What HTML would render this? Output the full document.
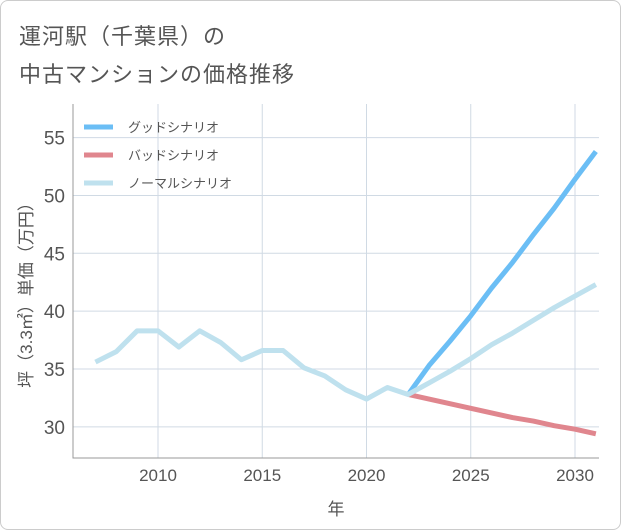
<!DOCTYPE html>
<html><head><meta charset="utf-8"><style>
body{margin:0;background:#fff;font-family:"Liberation Sans","Noto Sans CJK JP",sans-serif;}
#wrap{position:relative;width:619px;height:528px;border:1px solid #ccc;border-radius:8px;overflow:hidden;}
.title{position:absolute;left:18px;font-size:22px;color:#555;letter-spacing:1px;}
</style></head><body>
<div id="wrap">
<div class="title" style="top:18px">運河駅（千葉県）の</div>
<div class="title" style="top:56px">中古マンションの価格推移</div>
<svg id="svg" width="621" height="530" style="position:absolute;left:0;top:0"></svg>
</div>
<script>
const years=[2007,2008,2009,2010,2011,2012,2013,2014,2015,2016,2017,2018,2019,2020,2021,2022];
const hist=[35.6,36.5,38.3,38.3,36.9,38.3,37.3,35.8,36.6,36.6,35.1,34.4,33.2,32.4,33.4,32.8];
const futYears=[2022,2023,2024,2025,2026,2027,2028,2029,2030,2031];
const good=[32.8,35.3,37.4,39.6,42.0,44.2,46.6,48.9,51.4,53.8];
const bad=[32.8,32.4,32.0,31.6,31.2,30.8,30.5,30.1,29.8,29.4];
const normal=[32.8,33.8,34.8,35.9,37.1,38.1,39.2,40.3,41.3,42.3];
const yTicks=[30,35,40,45,50,55];
const xTicks=[2010,2015,2020,2025,2030];
const L=72,R=598,T=103,B=457;
const x=v=>157+(v-2010)*20.85;
const y=v=>368-(v-35)*11.57;
const NS="http://www.w3.org/2000/svg",svg=document.getElementById('svg');
function mk(t,a,p){const e=document.createElementNS(NS,t);for(const k in a)e.setAttribute(k,a[k]);(p||svg).appendChild(e);return e;}
const defs=mk('defs',{});const cp=mk('clipPath',{id:'c'},defs);mk('rect',{x:L,y:T,width:R-L,height:B-T},cp);
for(const t of yTicks){const g=mk('line',{x1:L,x2:R,y1:y(t),y2:y(t),stroke:'#d0dae4','stroke-width':1});

const tx=mk('text',{x:L-8,y:y(t)+7,'text-anchor':'end','font-size':19,fill:'#555'});tx.textContent=t;
}
for(const t of xTicks){const g=mk('line',{x1:x(t),x2:x(t),y1:T,y2:B,stroke:'#d0dae4','stroke-width':1});

const tx=mk('text',{x:x(t),y:B+23,'text-anchor':'middle','font-size':17,fill:'#555'});tx.textContent=t;
}
const ax=mk('path',{d:`M${L} ${T}V${B}H${R}`,fill:'none',stroke:'#999','stroke-width':1});

function line(xs,vs,col,name){const p=mk('polyline',{points:xs.map((v,i)=>x(v)+','+y(vs[i])).join(' '),fill:'none',stroke:col,'stroke-width':5,'stroke-linejoin':'round','clip-path':'url(#c)'});
}
line(futYears,bad,'#e0868e','bad-scenario-line');
line(futYears,good,'#6bbef5','good-scenario-line');
line(years.concat(futYears.slice(1)),hist.concat(normal.slice(1)),'#bfe1ee','normal-scenario-line');
const leg=[['グッドシナリオ','#6bbef5'],['バッドシナリオ','#e0868e'],['ノーマルシナリオ','#bfe1ee']];
leg.forEach((l,i)=>{const yy=126+i*28;const s=mk('line',{x1:83,x2:112,y1:yy,y2:yy,stroke:l[1],'stroke-width':5});

const t=mk('text',{x:127,y:yy+5,'font-size':13,fill:'#555'});t.textContent=l[0];
});
const xt=mk('text',{x:335,y:514,'text-anchor':'middle','font-size':17,fill:'#555'});xt.textContent='年';

const yt=mk('text',{x:0,y:0,'text-anchor':'middle','font-size':17,fill:'#555',transform:'translate(31,290) rotate(-90)'});yt.textContent='坪（3.3㎡）単価（万円）';

</script>
</body></html>
